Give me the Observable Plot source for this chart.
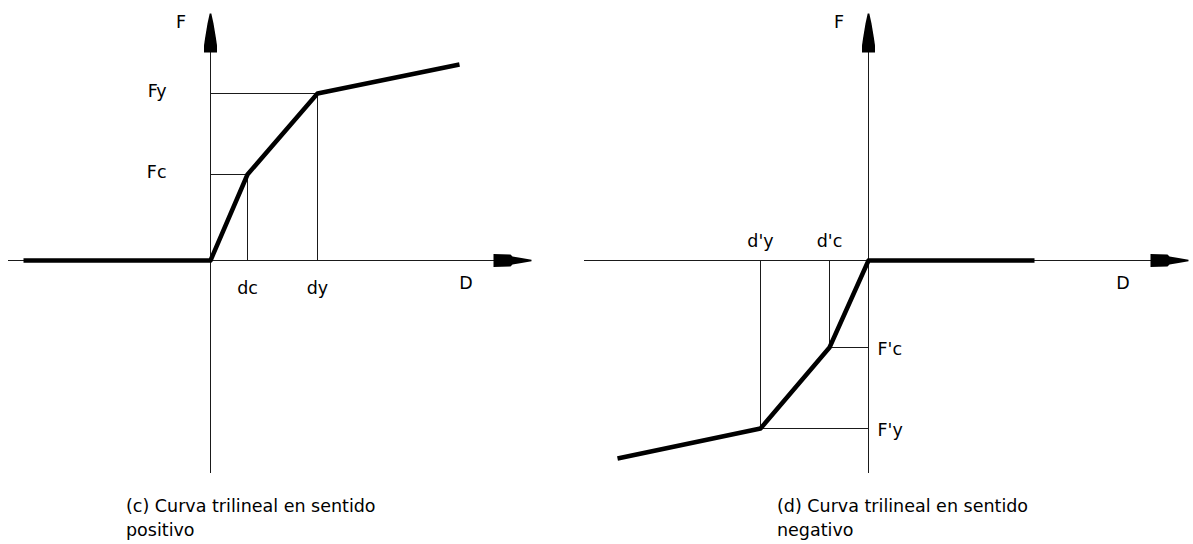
<!DOCTYPE html>
<html>
<head>
<meta charset="utf-8">
<script src="https://cdn.jsdelivr.net/npm/d3@7"></script>
<script src="https://cdn.jsdelivr.net/npm/@observablehq/plot@0.6"></script>
<style>
  html, body { margin: 0; padding: 0; background: #fff; }
  #root { position: relative; width: 1193px; height: 544px; overflow: hidden; background: #fff;
          font-family: "DejaVu Sans", sans-serif; color: #000; }
  .panel { position: absolute; top: 0; }
  .caption { position: absolute; top: 495px; font-size: 17.5px; line-height: 23.5px; white-space: pre; }
</style>
</head>
<body>
<div id="root"></div>
<script>
// ---- Data (drawing units) ----
// (c) positive direction: trilinear curve D–F
const posCurveD = [-187, 0, 37, 107, 249];
const posCurveF = [0, 0, 86, 167, 196];
const posLabelsD = ["dc", "dy"];
const posLabelsF = ["Fc", "Fy"];
const posAxisD = [-202, 321];

// (d) negative direction
const negCurveD = [166, 0, -39, -108, -251];
const negCurveF = [0, 0, -87, -168, -198];
const negLabelsD = ["d'c", "d'y"];
const negLabelsF = ["F'c", "F'y"];
const negAxisD = [-284, 320];

const axisF = [-213, 247];
const axisTitles = ["D", "F"];
const captions = ["(c) Curva trilineal en sentido\npositivo", "(d) Curva trilineal en sentido\nnegativo"];

// ---- Arrowhead symbols (tip at the dot's position) ----
const arrowRight = {
  draw(ctx) {
    ctx.moveTo(0, -0.8);
    ctx.lineTo(-10, -2.5);
    ctx.lineTo(-19, -4);
    ctx.lineTo(-21, -6);
    ctx.lineTo(-38, -6.5);
    ctx.lineTo(-38, 6.5);
    ctx.lineTo(-21, 6);
    ctx.lineTo(-19, 4);
    ctx.lineTo(-10, 2.5);
    ctx.lineTo(0, 0.8);
    ctx.closePath();
  }
};
const arrowUp = {
  draw(ctx) {
    ctx.moveTo(-0.8, 0);
    ctx.lineTo(-3, 10);
    ctx.lineTo(-5.5, 25);
    ctx.lineTo(-6.5, 32);
    ctx.lineTo(-6.5, 39);
    ctx.lineTo(6.5, 39);
    ctx.lineTo(6.5, 32);
    ctx.lineTo(5.5, 25);
    ctx.lineTo(3, 10);
    ctx.lineTo(0.8, 0);
    ctx.closePath();
  }
};

function panel({curveD, curveF, labelsD, labelsF, axisD, width, originX, negative}) {
  const curve = curveD.map((d, i) => ({d, f: curveF[i]}));
  const breaks = [2, 3].map((i, k) => ({d: curveD[i], f: curveF[i], ld: labelsD[k], lf: labelsF[k]}));
  const thin = {stroke: "#1a1a1a", strokeWidth: 1};
  const font = {fontFamily: "DejaVu Sans", fontSize: 17.5, fill: "#000", lineAnchor: "bottom"};
  return Plot.plot({
    width, height: 480,
    marginTop: 0, marginRight: 0, marginBottom: 0, marginLeft: 0,
    x: {domain: [-originX, width - originX], axis: null},
    y: {domain: [-220, 260], axis: null},
    style: {background: "transparent", overflow: "visible"},
    marks: [
      Plot.ruleY([0], {x1: axisD[0], x2: axisD[1] - 30, ...thin}),
      Plot.ruleX([0], {y1: axisF[0], y2: axisF[1] - 30, ...thin}),
      Plot.ruleX(breaks, {x: "d", y1: 0, y2: "f", ...thin}),
      Plot.ruleY(breaks, {y: "f", x1: 0, x2: "d", ...thin}),
      Plot.line(curve, {x: "d", y: "f", stroke: "#000", strokeWidth: 4.5,
                        strokeLinecap: "butt", strokeLinejoin: "round", curve: "linear"}),
      Plot.dot([axisD[1]], {x: (d) => d, y: 0, symbol: arrowRight, fill: "#000", stroke: "none"}),
      Plot.dot([axisF[1]], {x: 0, y: (d) => d, symbol: arrowUp, fill: "#000", stroke: "none"}),
      Plot.text(breaks, {x: "d", y: 0, text: "ld", dy: negative ? -14 : 33, textAnchor: "middle", ...font}),
      Plot.text(breaks, {x: 0, y: "f", text: "lf", dx: negative ? 9 : -44, dy: negative ? 7 : 3.5,
                         textAnchor: negative ? "start" : "end", ...font}),
      Plot.text([axisTitles[0]], {x: axisD[1], y: 0, text: (d) => d, dx: -65.5, dy: 28, textAnchor: "middle", ...font}),
      Plot.text([axisTitles[1]], {x: 0, y: axisF[1], text: (d) => d, dx: -29.5, dy: 14, textAnchor: "middle", ...font})
    ]
  });
}

const root = document.getElementById("root");

const left = panel({curveD: posCurveD, curveF: posCurveF, labelsD: posLabelsD, labelsF: posLabelsF,
                    axisD: posAxisD, width: 596, originX: 210, negative: false});
left.classList.add("panel");
left.style.left = "0px";
root.appendChild(left);

const right = panel({curveD: negCurveD, curveF: negCurveF, labelsD: negLabelsD, labelsF: negLabelsF,
                     axisD: negAxisD, width: 597, originX: 272, negative: true});
right.classList.add("panel");
right.style.left = "596px";
root.appendChild(right);

[[captions[0], 126], [captions[1], 777]].forEach(([t, x]) => {
  const div = document.createElement("div");
  div.className = "caption";
  div.style.left = x + "px";
  div.textContent = t;
  root.appendChild(div);
});
</script>
</body>
</html>
